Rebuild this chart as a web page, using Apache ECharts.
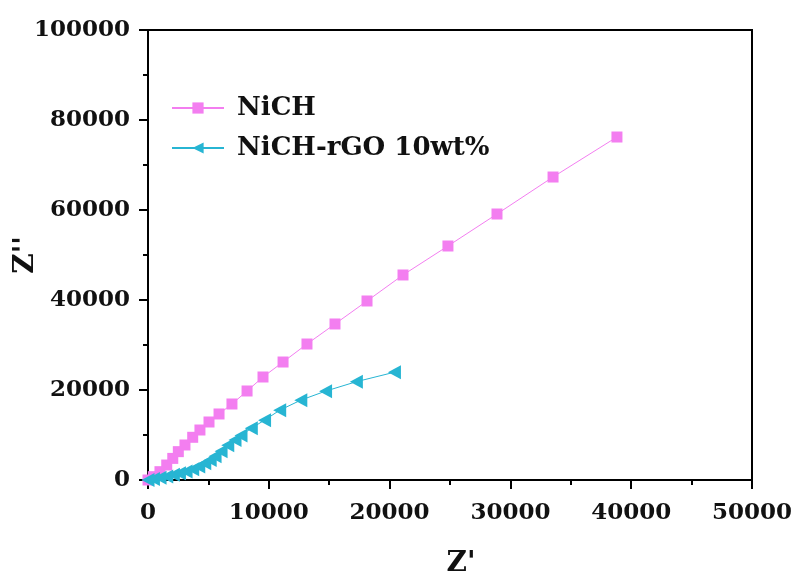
<!DOCTYPE html>
<html>
<head>
<meta charset="utf-8">
<script src="https://cdn.jsdelivr.net/npm/echarts@6/dist/echarts.min.js"></script>
<style>
  html,body{margin:0;padding:0;background:#fff;}
  #main{width:797px;height:573px;}
</style>
</head>
<body>
<div id="main"></div>
<script>
// series names
const seriesNames=['NiCH','NiCH-rGO 10wt%'];
// NiCH (Z', Z'')
const nichX=[0,440,990,1550,2050,2510,3060,3700,4300,5050,5880,6950,8200,9520,11180,13160,15480,18130,21110,24830,28890,33530,38820];
const nichY=[0,740,1850,3330,4800,6300,7780,9490,11110,12890,14670,16890,19780,22890,26220,30220,34670,39780,45560,52000,59110,67330,76220];
// NiCH-rGO 10wt% (Z', Z'')
const rgoX=[0,450,1000,1550,2100,2600,3150,3700,4200,4700,5150,5550,6050,6600,7200,7700,8550,9650,10900,12650,14700,17250,20400];
const rgoY=[0,250,500,800,1150,1500,1900,2400,3000,3700,4450,5300,6400,7700,8900,9900,11500,13300,15500,17750,19750,21850,23950];
// axis ranges
const xMin=0,xMax=50000,xStep=10000;
const yMin=0,yMax=100000,yStep=20000;

function pairs(xs,ys){
  let out=[];
  for(var i=0;i<xs.length;i++){
    out.push([xs[i],ys[i]]);
  }
  return out;
}

const font='DejaVu Serif';
let chart=echarts.init(document.getElementById('main'),null,{renderer:'canvas'});
let option={
  animation:false,
  backgroundColor:'#fff',
  grid:{
    left:148,
    right:45,
    top:30,
    bottom:93,
    outerBoundsMode:'none',
    containLabel:false,
    show:true,
    borderColor:'#000',
    borderWidth:2
  },
  legend:{
    orient:'vertical',
    left:166,
    top:90,
    itemWidth:52,
    itemHeight:14,
    itemGap:14,
    data:seriesNames,
    textStyle:{
      fontFamily:font,
      fontWeight:'bold',
      fontSize:26,
      color:'#111',
      padding:[0,0,0,8]
    }
  },
  xAxis:{
    type:'value',
    min:xMin,
    max:xMax,
    interval:xStep,
    name:"Z'",
    nameLocation:'middle',
    nameGap:70,
    nameMoveOverlap:false,
    nameTextStyle:{fontFamily:font,fontWeight:'bold',fontSize:28,color:'#111',padding:[0,0,0,22]},
    axisLine:{show:true,lineStyle:{color:'#000',width:2}},
    axisTick:{show:true,length:9,lineStyle:{color:'#000',width:2}},
    minorTick:{show:true,splitNumber:2,length:5,lineStyle:{color:'#000',width:2}},
    splitLine:{show:false},
    axisLabel:{
      margin:22,
      fontFamily:font,
      fontWeight:'bold',
      fontSize:23,
      color:'#111',
      formatter:function(v){return String(v);}
    }
  },
  yAxis:{
    type:'value',
    min:yMin,
    max:yMax,
    interval:yStep,
    name:"Z''",
    nameLocation:'middle',
    nameGap:108,
    nameMoveOverlap:false,
    nameTextStyle:{fontFamily:font,fontWeight:'bold',fontSize:28,color:'#111'},
    axisLine:{show:true,lineStyle:{color:'#000',width:2}},
    axisTick:{show:true,length:9,lineStyle:{color:'#000',width:2}},
    minorTick:{show:true,splitNumber:2,length:5,lineStyle:{color:'#000',width:2}},
    splitLine:{show:false},
    axisLabel:{
      margin:18,
      fontFamily:font,
      fontWeight:'bold',
      fontSize:23,
      color:'#111',
      formatter:function(v){return String(v);}
    }
  },
  series:[
    {
      name:seriesNames[0],
      type:'line',
      data:pairs(nichX,nichY),
      symbol:'rect',
      symbolSize:11,
      lineStyle:{color:'#f37ef0',width:1},
      itemStyle:{color:'#f37ef0'}
    },
    {
      name:seriesNames[1],
      type:'line',
      data:pairs(rgoX,rgoY),
      symbol:'triangle',
      symbolSize:[14,13],
      symbolRotate:90,
      lineStyle:{color:'#27b5d3',width:1},
      itemStyle:{color:'#27b5d3'}
    }
  ]
};
chart.setOption(option);
</script>
</body>
</html>
